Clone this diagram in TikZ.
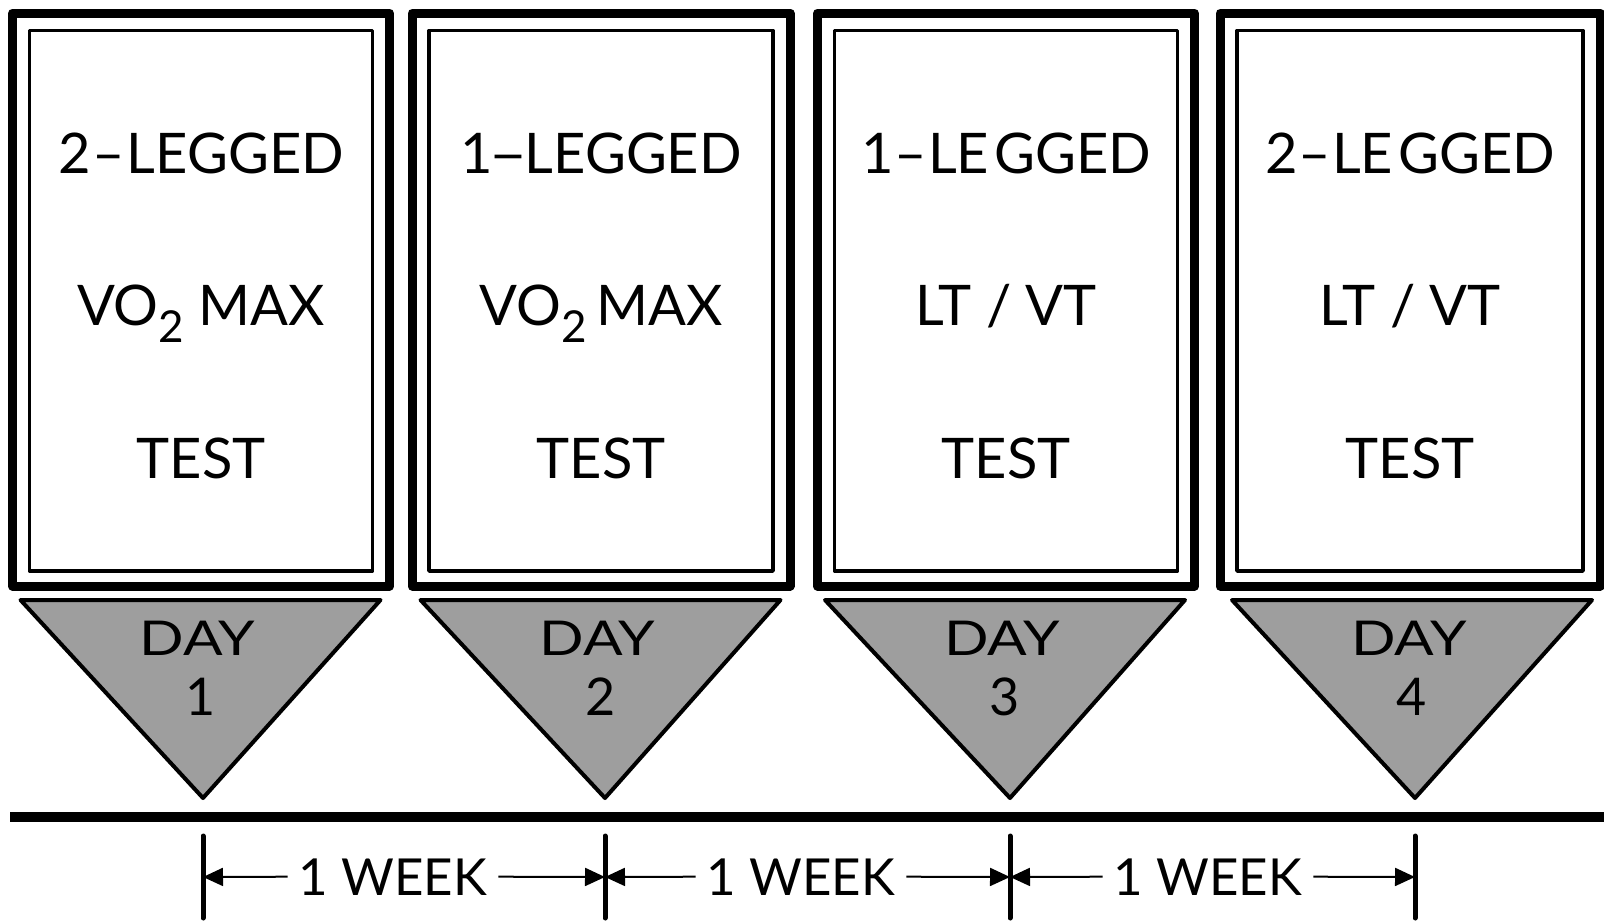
\documentclass[tikz,border=0pt]{standalone}
\usepackage{fontspec}
\setmainfont{Lato}
\usetikzlibrary{arrows.meta}

\tikzset{
  outerframe/.style={line width=9pt, line join=round},
  innerframe/.style={line width=3.5pt, line join=round},
  daytri/.style={fill=black!38, draw=black, line width=4pt, line join=round},
  boxlabel/.style={anchor=base, inner sep=0pt, font=\fontsize{56}{56}\selectfont},
  daylabel/.style={anchor=base, inner sep=0pt, font=\fontsize{48}{48}\selectfont},
  weeklabel/.style={anchor=base, inner xsep=11pt, inner ysep=0pt, font=\fontsize{51}{51}\selectfont},
  timeline/.style={line width=10pt},
  weektick/.style={line width=5pt, line cap=round},
  weekarrow/.style={line width=2pt, -{Triangle[length=20pt,width=18pt]}},
}

% one test column: #1 name, #2 box centre x, #3 half width of the frame,
% #4 triangle base centre x, #5 triangle tip x, #6 first line, #7 second line, #8 day number
\newcommand\testcolumn[8]{%
  \draw[outerframe] (#2-#3,13) rectangle (#2+#3,586);
  \draw[innerframe] (#2-#3+17,30.5) rectangle (#2+#3-17,571);
  \node[boxlabel] (legs#1) at (#2,173) {#6};
  \node[boxlabel] (kind#1) at (#2,325) {#7};
  \node[boxlabel] (test#1) at (#2,478) {TEST};
  \draw[daytri] (#4-180,600) -- (#4+180,600) -- (#5,798) -- cycle;
  \node[daylabel] (day#1) at (#4-3,655) {\scalebox{1.22}[1]{DAY}};
  \node[daylabel] (num#1) at (#4,715) {\fontsize{52}{52}\selectfont #8};
}

\newcommand\vosub{VO\raisebox{-17pt}{\fontsize{44}{44}\selectfont 2}}
\newcommand\longdash{\scalebox{0.72}[1]{---}}

\begin{document}
\begin{tikzpicture}[x=1pt,y=-1pt]
  \useasboundingbox (0,0) rectangle (1604,922);

  \testcolumn{a}{201}{188.5}{200.5}{203}{2\kern2pt--\kern2pt LEGGED}{\vosub\ MAX}{1}
  \testcolumn{b}{601}{189}{600.5}{605}{1\longdash LEGGED}{\vosub\,MAX}{2}
  \testcolumn{c}{1006}{188.5}{1005}{1010}{1\kern1pt--\kern1pt LE\kern5pt GGED}{LT / VT}{3}
  \testcolumn{d}{1410}{190}{1412}{1415}{2\kern1pt--\kern1pt LE\kern5pt GGED}{LT / VT}{4}

  % time axis
  \coordinate (tlL) at (10,817);
  \coordinate (tlR) at (1604,817);
  \draw[timeline] (tlL) -- (tlR);

  % week ticks
  \foreach \n/\x in {1/203, 2/605, 3/1010, 4/1415}{
    \coordinate (t\n) at (\x,877);
    \coordinate (t\n top) at (\x,836);
    \coordinate (t\n bot) at (\x,918);
    \draw[weektick] (t\n top) -- (t\n bot);
  }

  % week intervals
  \node[weeklabel] (w1) at (393,895) {1 WEEK};
  \node[weeklabel] (w2) at (801,895) {1 WEEK};
  \node[weeklabel] (w3) at (1208,895) {1 WEEK};
  \draw[weekarrow] (w1.west) -- (t1);
  \draw[weekarrow] (w1.east) -- (t2);
  \draw[weekarrow] (w2.west) -- (t2);
  \draw[weekarrow] (w2.east) -- (t3);
  \draw[weekarrow] (w3.west) -- (t3);
  \draw[weekarrow] (w3.east) -- (t4);
\end{tikzpicture}
\end{document}
